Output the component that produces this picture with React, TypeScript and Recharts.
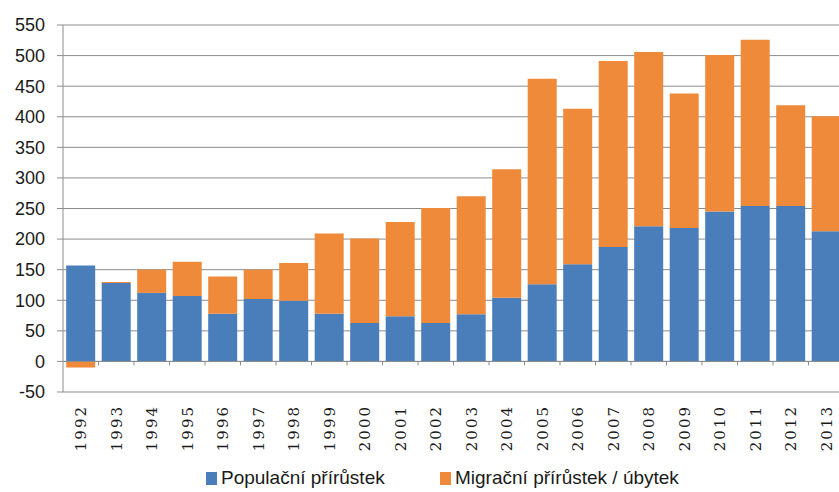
import React from 'react';
import {
  BarChart,
  Bar,
  XAxis,
  YAxis,
  CartesianGrid,
  ReferenceLine,
  Legend,
} from 'recharts';

const years = [
  '1992', '1993', '1994', '1995', '1996', '1997', '1998', '1999', '2000', '2001', '2002',
  '2003', '2004', '2005', '2006', '2007', '2008', '2009', '2010', '2011', '2012', '2013',
];
const population = [
  157, 128, 112, 107, 78, 102, 99, 78, 63, 74, 63,
  77, 104, 126, 159, 187, 221, 218, 245, 254, 254, 213,
];
const migration = [
  -10, 2, 38, 56, 61, 48, 62, 131, 138, 154, 188,
  193, 210, 336, 254, 304, 285, 220, 256, 272, 165, 188,
];
const yTicks = [-50, 0, 50, 100, 150, 200, 250, 300, 350, 400, 450, 500, 550];

const BLUE = '#4a7ebb';
const ORANGE = '#ee8a3a';
const GRID = '#8c8c8c';

const CHART_W = 850;
const CHART_H = 492;
const MARGIN = { top: 25, right: 6, left: 0, bottom: 0 };
const Y_AXIS_W = 63;
const X_AXIS_H = 62;
const LEGEND_H = 38;
const Y_MIN = -50;
const Y_MAX = 550;
const PLOT_H = CHART_H - MARGIN.top - MARGIN.bottom - X_AXIS_H - LEGEND_H;
const BAND = (CHART_W - Y_AXIS_W - MARGIN.right - MARGIN.left) / years.length;

const data = years.map((year, i) => ({
  year,
  population: population[i],
  migration: migration[i],
}));

// year label at the bottom plus the small category divider on the zero line
const YearTick = (props: any) => {
  const { x, y, payload } = props;
  const zeroY = y - (PLOT_H * (0 - Y_MIN)) / (Y_MAX - Y_MIN);
  const labelY = y + 13;
  return (
    <g>
      <line x1={x + BAND / 2} x2={x + BAND / 2} y1={zeroY} y2={zeroY + 4} stroke={GRID} />
      <text
        x={x}
        y={labelY}
        dy="0.36em"
        transform={`rotate(-90, ${x}, ${labelY})`}
        textAnchor="end"
        fontFamily="'DejaVu Serif', serif"
        fontSize={15}
        letterSpacing={2}
        fill="#1a1a1a"
      >
        {payload.value}
      </text>
    </g>
  );
};

const LegendContent = () => {
  const items = [
    { label: 'Populační přírůstek', color: BLUE, left: 206 },
    { label: 'Migrační přírůstek / úbytek', color: ORANGE, left: 440 },
  ];
  return (
    <div style={{ position: 'relative', height: LEGEND_H }}>
      {items.map((it) => (
        <div
          key={it.label}
          style={{
            position: 'absolute',
            left: it.left,
            top: 12,
            display: 'flex',
            alignItems: 'center',
            whiteSpace: 'nowrap',
          }}
        >
          <span style={{ width: 11, height: 13, background: it.color, marginRight: 4 }} />
          <span
            style={{
              fontFamily: "'Liberation Sans Narrow', 'Liberation Sans', sans-serif",
              fontSize: 19,
              color: '#1a1a1a',
              lineHeight: '24px',
            }}
          >
            {it.label}
          </span>
        </div>
      ))}
    </div>
  );
};

export default function App() {
  return (
    <div
      style={{
        position: 'absolute',
        left: 0,
        top: 0,
        width: 839,
        height: 492,
        overflow: 'hidden',
        background: '#fff',
      }}
    >
      <BarChart
        width={CHART_W}
        height={CHART_H}
        data={data}
        margin={MARGIN}
        stackOffset="sign"
        barCategoryGap="9%"
      >
        <CartesianGrid vertical={false} stroke={GRID} />
        <XAxis
          dataKey="year"
          height={X_AXIS_H}
          axisLine={false}
          tickLine={false}
          tickSize={0}
          tickMargin={0}
          interval={0}
          tick={<YearTick />}
        />
        <YAxis
          width={Y_AXIS_W}
          domain={[Y_MIN, Y_MAX]}
          ticks={yTicks}
          interval={0}
          stroke={GRID}
          tickSize={6}
          tickMargin={12}
          tick={{
            fontSize: 18,
            fontFamily: "'Liberation Sans', sans-serif",
            fill: '#1a1a1a',
          }}
        />
        <ReferenceLine y={0} stroke={GRID} />
        <Legend verticalAlign="bottom" height={LEGEND_H} content={() => <LegendContent />} />
        <Bar dataKey="population" stackId="a" fill={BLUE} isAnimationActive={false} />
        <Bar dataKey="migration" stackId="a" fill={ORANGE} isAnimationActive={false} />
      </BarChart>
    </div>
  );
}
